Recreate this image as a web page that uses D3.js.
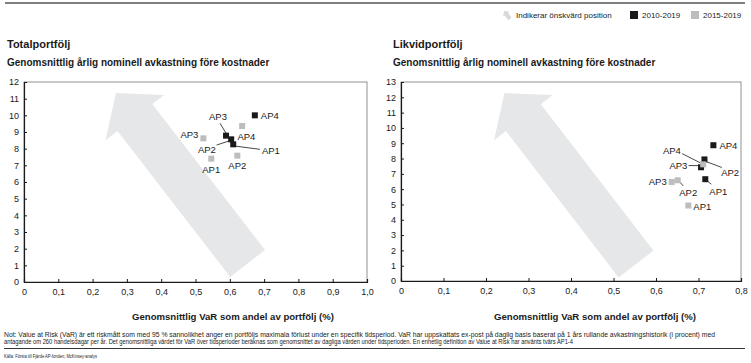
<!DOCTYPE html>
<html><head><meta charset="utf-8">
<script src="https://cdn.jsdelivr.net/npm/d3@7"></script>
<style>body{margin:0;background:#fff} text{font-family:"Liberation Sans",Arial,sans-serif;fill:#1a1a1a}</style>
</head><body><svg id="c" width="751" height="363"></svg>
<script>
// ---------- data ----------
const apNames = ["AP1","AP2","AP3","AP4"];
const seriesNames = ["2010-2019","2015-2019"];
const arrowLegend = "Indikerar önskvärd position";
// Totalportfölj
const totalVar2010 = [0.610,0.604,0.589,0.673];
const totalRet2010 = [8.26,8.56,8.78,10.0];
const totalVar2015 = [0.546,0.622,0.523,0.636];
const totalRet2015 = [7.40,7.58,8.62,9.36];
// Likvidportfölj
const likvVar2010 = [0.716,0.714,0.706,0.735];
const likvRet2010 = [6.65,7.94,7.43,8.87];
const likvVar2015 = [0.676,0.651,0.637,0.711];
const likvRet2015 = [4.93,6.58,6.47,7.62];
// ticks
const totalXTicks = [0,0.1,0.2,0.3,0.4,0.5,0.6,0.7,0.8,0.9,1.0];
const totalYTicks = [0,1,2,3,4,5,6,7,8,9,10,11,12];
const likvXTicks = [0,0.1,0.2,0.3,0.4,0.5,0.6,0.7,0.8];
const likvYTicks = [0,1,2,3,4,5,6,7,8,9,10,11,12,13];
// desired-position arrows (data space: tail -> tip)
const totalArrow = [[0.652,1.11],[0.268,11.34]];
const likvArrow = [[0.553,1.11],[0.2435,12.28]];

const titles = ["Totalportfölj","Likvidportfölj"];
const yTitle = "Genomsnittlig årlig nominell avkastning före kostnader";
const xTitle = "Genomsnittlig VaR som andel av portfölj (%)";
const note1 = "Not: Value at Risk (VaR) är ett riskmått som med 95 % sannolikhet anger en portföljs maximala förlust under en specifik tidsperiod. VaR har uppskattats ex-post på daglig basis baserat på 1 års rullande avkastningshistorik (i procent) med";
const note2 = "antagande om 260 handelsdagar per år. Det genomsnittliga värdet för VaR över tidsperioder beräknas som genomsnittet av dagliga värden under tidsperioden. En enhetlig definition av Value at Risk har använts tvärs AP1-4";
const source = "Källa: Första till Fjärde AP-fonden; McKinsey-analys";

// ---------- label layout (pixel offsets from point) ----------
const totalLab2010 = [[28.7,9.8,"start",[1.7,1.7,26.7,5]],[-24.3,14.1,"middle",[-14.6,5.7,-1.3,1.4]],[-8,-15.3,"middle",[-6,-12.4,0,-2.4]],[6,3.4,"start",null]];
const totalLab2015 = [[0,14.1,"middle",null],[0,13.7,"middle",null],[-5,0.1,"end",null],[-4.7,14.1,"start",null]];
const likvLab2010 = [[13,16.1,"middle",[1,1,6,5]],[25.7,16.8,"middle",[2.4,2.4,17.4,8]],[-13.7,1.7,"end",[-12.5,-1.7,-1,-1.7]],[6,3.4,"start",null]];
const likvLab2015 = [[5,4.8,"start",null],[10.6,15.4,"middle",[1.6,1,5.6,5.7]],[-5,3.4,"end",null],[-31.3,-10.6,"middle",[-21,-10.7,-1.3,-0.7]]];

const BLACK="#1a1a1a", GRAY="#bdbdbd", ARROW="#e6e7e8";
const svg = d3.select("#c");
const fmt = d => d===0 ? "0" : d3.format(".1f")(d).replace(".",",");

svg.append("line").attr("x1",5).attr("x2",745).attr("y1",3).attr("y2",3).attr("stroke","#555").attr("stroke-width",1.6);

function arrowPath(tail, tip, bodyW, headW, headL){
  const dx=tip[0]-tail[0], dy=tip[1]-tail[1], len=Math.hypot(dx,dy);
  const d=[dx/len,dy/len], p=[-d[1],d[0]];
  const bx=tip[0]-d[0]*headL, by=tip[1]-d[1]*headL;
  const P=(x,y,s)=>[x+p[0]*s,y+p[1]*s];
  const pts=[P(tail[0],tail[1],bodyW/2),P(bx,by,bodyW/2),P(bx,by,headW/2),tip,P(bx,by,-headW/2),P(bx,by,-bodyW/2),P(tail[0],tail[1],-bodyW/2)];
  return "M"+pts.map(q=>q.join(",")).join("L")+"Z";
}

(function(){
  const g=svg.append("g");
  g.append("path").attr("d",arrowPath([510,19],[504,11],4,8,4)).attr("fill","#d9d9d9");
  g.append("text").attr("x",516).attr("y",18).attr("font-size",8).text(arrowLegend);
  g.append("rect").attr("x",630).attr("y",11).attr("width",8).attr("height",8).attr("fill",BLACK);
  g.append("text").attr("x",642).attr("y",18).attr("font-size",8).text(seriesNames[0]);
  g.append("rect").attr("x",691).attr("y",11).attr("width",8).attr("height",8).attr("fill",GRAY);
  g.append("text").attr("x",703).attr("y",18).attr("font-size",8).text(seriesNames[1]);
})();

function panel(cfg){
  const g=svg.append("g");
  const x=d3.scaleLinear().domain([cfg.xTicks[0],cfg.xTicks[cfg.xTicks.length-1]]).range([cfg.x0,cfg.x1]);
  const y=d3.scaleLinear().domain([0,cfg.yTicks[cfg.yTicks.length-1]]).range([cfg.y0,cfg.y1]);
  g.append("text").attr("x",cfg.tx).attr("y",48).attr("font-size",11).attr("font-weight","bold").text(cfg.title);
  g.append("text").attr("x",cfg.tx).attr("y",66).attr("font-size",10).attr("font-weight","bold").text(yTitle);
  g.append("rect").attr("x",cfg.x0).attr("y",cfg.y1).attr("width",cfg.x1-cfg.x0).attr("height",cfg.y0-cfg.y1).attr("fill","none").attr("stroke","#777").attr("stroke-width",0.8);
  const a=cfg.arrow;
  g.append("path").attr("d",arrowPath([x(a[0][0]),y(a[0][1])],[x(a[1][0]),y(a[1][1])],44,74,31)).attr("fill",ARROW);
  const xa=g.append("g").attr("transform",`translate(0,${cfg.y0})`).call(d3.axisBottom(x).tickValues(cfg.xTicks).tickFormat(fmt).tickSize(-3).tickPadding(7));
  const ya=g.append("g").attr("transform",`translate(${cfg.x0},0)`).call(d3.axisLeft(y).tickValues(cfg.yTicks).tickFormat(d3.format("d")).tickSize(-3).tickPadding(5));
  [xa,ya].forEach(ax=>{ax.select(".domain").attr("stroke",BLACK).attr("stroke-width",1.2);
    ax.selectAll(".tick line").attr("stroke",BLACK);
    ax.selectAll("text").attr("font-size",9).attr("font-family","Liberation Sans, Arial, sans-serif").attr("fill","#1a1a1a");});
  g.append("text").attr("x",cfg.xtx).attr("y",320).attr("text-anchor","middle").attr("font-size",9.6).attr("font-weight","bold").text(xTitle);
  const sets=[[cfg.v10,cfg.r10,cfg.l10,BLACK],[cfg.v15,cfg.r15,cfg.l15,GRAY]];
  sets.forEach(([vs,rs,ls,col])=>{
    apNames.forEach((n,i)=>{
      const px=x(vs[i]), py=y(rs[i]), L=ls[i];
      if(L[3]) g.append("line").attr("x1",px+L[3][0]).attr("y1",py+L[3][1]).attr("x2",px+L[3][2]).attr("y2",py+L[3][3]).attr("stroke",BLACK).attr("stroke-width",0.8);
      g.append("rect").attr("x",px-3).attr("y",py-3).attr("width",6).attr("height",6).attr("fill",col);
      g.append("text").attr("x",px+L[0]).attr("y",py+L[1]).attr("text-anchor",L[2]).attr("font-size",9.5).text(n);
    });
  });
}

panel({title:titles[0],tx:7,x0:24,x1:367,y0:282,y1:82,xTicks:totalXTicks,yTicks:totalYTicks,arrow:totalArrow,xtx:233,
  v10:totalVar2010,r10:totalRet2010,v15:totalVar2015,r15:totalRet2015,l10:totalLab2010,l15:totalLab2015});
panel({title:titles[1],tx:393,x0:401,x1:741,y0:281,y1:82,xTicks:likvXTicks,yTicks:likvYTicks,arrow:likvArrow,xtx:595,
  v10:likvVar2010,r10:likvRet2010,v15:likvVar2015,r15:likvRet2015,l10:likvLab2010,l15:likvLab2015});

svg.append("text").attr("x",4).attr("y",337).attr("font-size",6.4).attr("textLength",711).attr("lengthAdjust","spacingAndGlyphs").text(note1);
svg.append("text").attr("x",4).attr("y",344).attr("font-size",6.4).attr("textLength",569).attr("lengthAdjust","spacingAndGlyphs").text(note2);
svg.append("line").attr("x1",4).attr("x2",745).attr("y1",348.5).attr("y2",348.5).attr("stroke","#333").attr("stroke-width",1);
svg.append("text").attr("x",4).attr("y",358).attr("font-size",5.5).attr("textLength",93).attr("lengthAdjust","spacingAndGlyphs").text(source);
</script></body></html>
